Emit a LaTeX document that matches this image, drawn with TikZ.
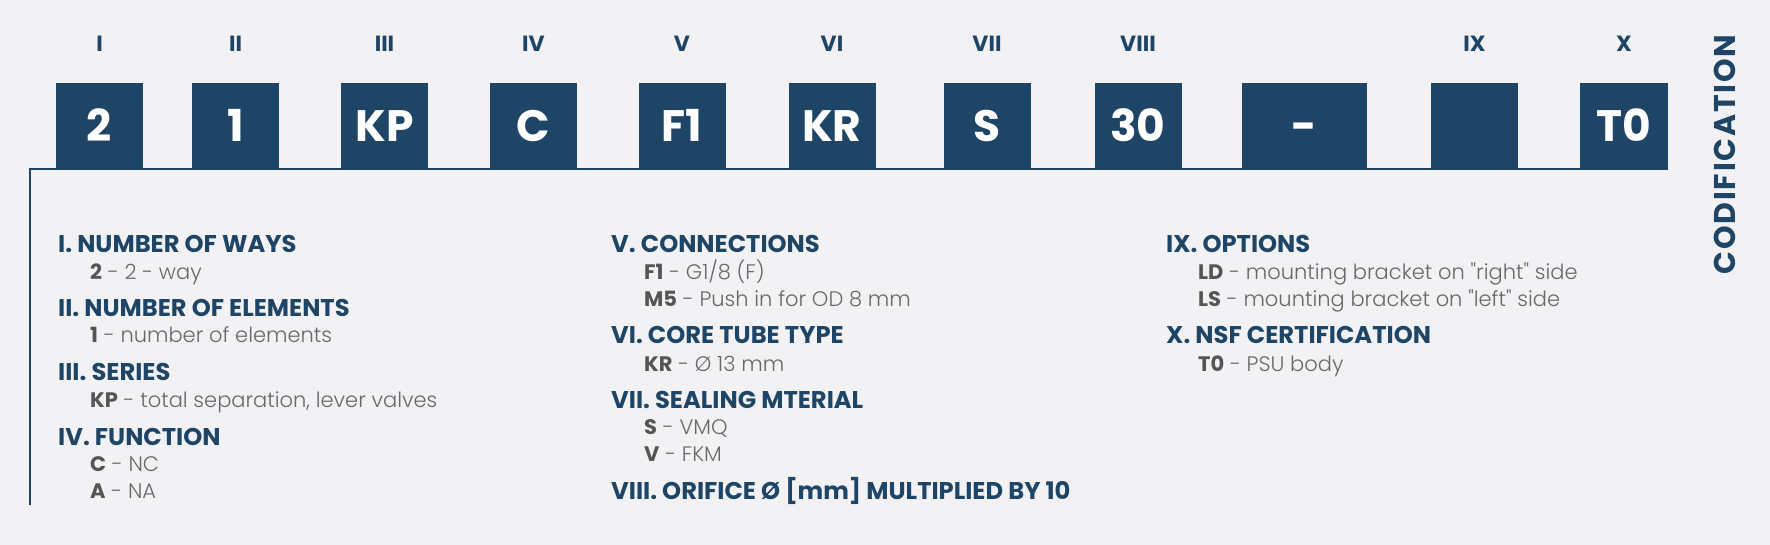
\documentclass[tikz,border=0pt]{standalone}
\usepackage{fontspec}
\setmainfont{Poppins}
\newfontfamily\lightfont{Poppins Light}
\newfontfamily\sidefont{Poppins}[LetterSpace=6]
\definecolor{navy}{HTML}{1F4566}
\definecolor{bg}{HTML}{F2F2F4}
\definecolor{keygray}{HTML}{555555}
\definecolor{txtgray}{HTML}{686868}
\newcommand\keyx[1]{{\normalfont\bfseries\color{keygray}#1}}
\begin{document}
\begin{tikzpicture}[x=1pt,y=-1pt,
  box/.style={fill=navy, inner sep=0pt, minimum width=87pt, minimum height=87pt, text=white, font=\bfseries\fontsize{44}{44}\selectfont, text height=31pt, text depth=0pt},
  rom/.style={anchor=base, text=navy, font=\bfseries\fontsize{22}{22}\selectfont, inner sep=0pt},
  head/.style={anchor=base west, text=navy, font=\bfseries\fontsize{24.2}{24.2}\selectfont, inner sep=0pt},
  item/.style={anchor=base west, text=txtgray, font=\lightfont\fontsize{21}{21}\selectfont, inner sep=0pt},
  rule/.style={draw=navy, line width=2pt}]
\fill[bg] (0,0) rectangle (1770,545);
\useasboundingbox (0,0) rectangle (1770,545);
% boxes
\node[box] (b1) at (99.5,126.5) {2};
\node[box] (b2) at (235.5,126.5) {1};
\node[box] (b3) at (384.5,126.5) {KP};
\node[box] (b4) at (533.5,126.5) {C};
\node[box] (b5) at (682,126.5) {F1};
\node[box] (b6) at (832,126.5) {KR};
\node[box] (b7) at (987,126.5) {S};
\node[box] (b8) at (1138,126.5) {30};
\node[box, minimum width=125pt] (b9) at (1304.5,126.5) {-};
\node[box] (b10) at (1474.5,126.5) {};
\node[box, minimum width=88pt] (b11) at (1624,126.5) {T0};
% frame line
\coordinate (lb) at (30,505);
\coordinate (lc) at (30,169.5);
\draw[rule] (lb) -- (lc) -- (lc -| b11.south west);
% numerals
\node[rom] (r1) at (99.5,52) {I};
\node[rom] (r2) at (235.5,52) {II};
\node[rom] (r3) at (384.5,52) {III};
\node[rom] (r4) at (533.5,52) {IV};
\node[rom] (r5) at (682,52) {V};
\node[rom] (r6) at (832,52) {VI};
\node[rom] (r7) at (987,52) {VII};
\node[rom] (r8) at (1138,52) {VIII};
\node[rom] (r9) at (1474.5,52) {IX};
\node[rom] (r10) at (1624,52) {X};
% side title
\node[rotate=90, text=navy, font=\sidefont\bfseries\fontsize{30}{30}\selectfont, inner sep=0pt, text height=21pt, text depth=0pt] (side) at (1724.5,154.5) {CODIFICATION};
% left column
\node[head] (h1) at (58,253) {I. NUMBER OF WAYS};
\node[item] (i1) at (90,280) {\keyx{2} - 2 - way};
\node[head] (h2) at (58,316.5) {II. NUMBER OF ELEMENTS};
\node[item] (i2) at (90,343) {\keyx{1} - number of elements};
\node[head] (h3) at (58,381) {III. SERIES};
\node[item] (i3) at (90,407.5) {\keyx{KP} - total separation, lever valves};
\node[head] (h4) at (58,445.5) {IV. FUNCTION};
\node[item] (i4a) at (90,471.5) {\keyx{C} - NC};
\node[item] (i4b) at (90,498.5) {\keyx{A} - NA};
% middle column
\node[head] (h5) at (611,253) {V. CONNECTIONS};
\node[item] (i5a) at (644,280) {\keyx{F1} - G1/8 (F)};
\node[item] (i5b) at (644,307) {\keyx{M5} - Push in for OD 8 mm};
\node[head] (h6) at (611,344) {VI. CORE TUBE TYPE};
\node[item] (i6) at (644,371) {\keyx{KR} - Ø 13 mm};
\node[head] (h7) at (611,408) {VII. SEALING MTERIAL};
\node[item] (i7a) at (644,434.5) {\keyx{S} - VMQ};
\node[item] (i7b) at (644,461.5) {\keyx{V} - FKM};
\node[head] (h8) at (611,499) {VIII. ORIFICE Ø [mm] MULTIPLIED BY 10};
% right column
\node[head] (h9) at (1166,253) {IX. OPTIONS};
\node[item] (i9a) at (1198,280) {\keyx{LD} - mounting bracket on "right" side};
\node[item] (i9b) at (1198,307) {\keyx{LS} - mounting bracket on "left" side};
\node[head] (h10) at (1166,344) {X. NSF CERTIFICATION};
\node[item] (i10) at (1198,371) {\keyx{T0} - PSU body};
\end{tikzpicture}
\end{document}
